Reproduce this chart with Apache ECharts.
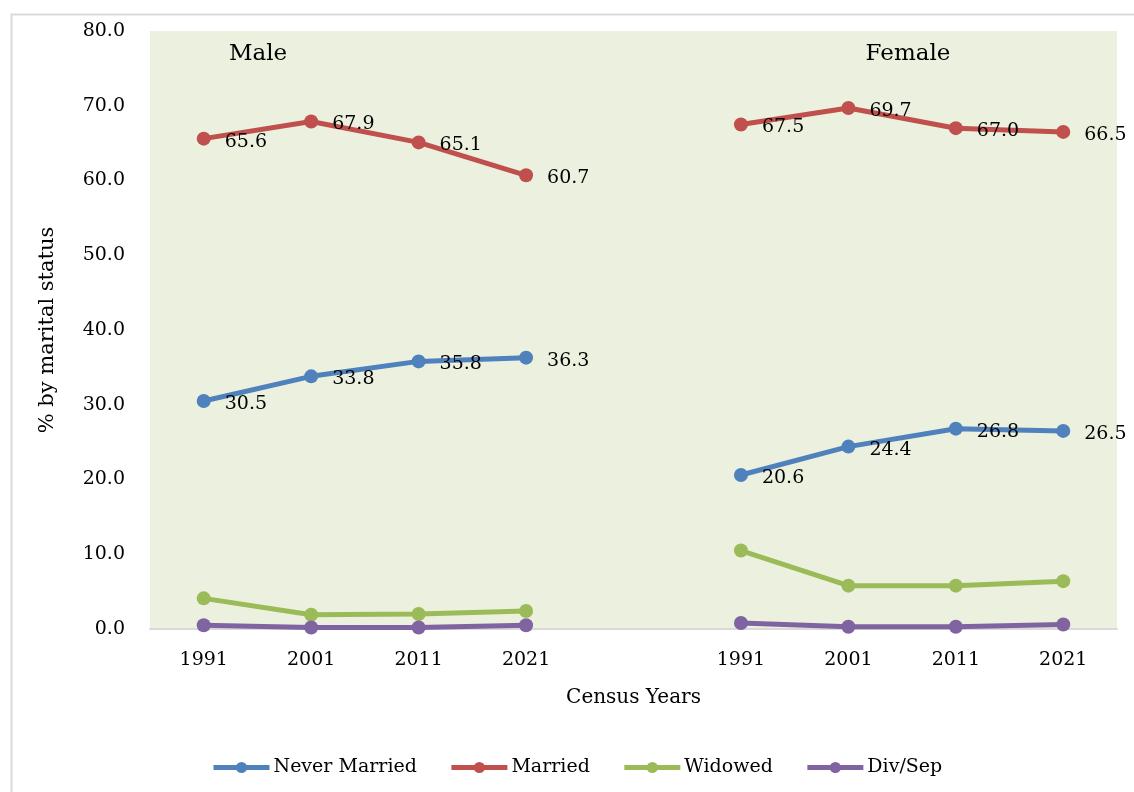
<!DOCTYPE html>
<html>
<head>
<meta charset="utf-8">
<script src="https://cdn.jsdelivr.net/npm/echarts@6/dist/echarts.min.js"></script>
<style>
html,body{margin:0;padding:0;background:#fff;}
#chart{width:1134px;height:792px;}
</style>
</head>
<body>
<div id="chart"></div>
<script>
const categories = ['1991','2001','2011','2021','','1991','2001','2011','2021'];
const neverMarried = [30.5, 33.8, 35.8, 36.3, '-', 20.6, 24.4, 26.8, 26.5];
const married = [65.6, 67.9, 65.1, 60.7, '-', 67.5, 69.7, 67.0, 66.5];
const widowed = [4.1, 1.9, 2.0, 2.4, '-', 10.5, 5.8, 5.8, 6.4];
const divSep = [0.5, 0.2, 0.2, 0.5, '-', 0.8, 0.3, 0.3, 0.6];
const panelLabels = ['Male', 'Female'];

const FONT = 'DejaVu Serif';
const chart = echarts.init(document.getElementById('chart'));

function mkSeries(name, data, color, showLabel) {
  return {
    name: name, type: 'line', data: data, connectNulls: false,
    symbol: 'circle', symbolSize: 14,
    lineStyle: {color: color, width: 5},
    itemStyle: {color: color},
    label: {
      show: showLabel, position: 'right', distance: 14,
      color: '#000', fontFamily: FONT, fontSize: 19,
      offset: [0, 3],
      formatter: p => Number(p.value).toFixed(1)
    },
    emphasis: {disabled: true}
  };
}

chart.setOption({
  animation: false,
  backgroundColor: '#fff',
  graphic: [
    {type: 'rect', left: 9, top: 12, shape: {width: 1140, height: 800}, style: {fill: 'none', stroke: '#d9d9d9', lineWidth: 2}, silent: true},
    {type: 'text', x: 258, y: 54, style: {text: panelLabels[0], font: '23px "' + FONT + '"', fill: '#000', align: 'center', verticalAlign: 'middle'}},
    {type: 'text', x: 908, y: 54, style: {text: panelLabels[1], font: '23px "' + FONT + '"', fill: '#000', align: 'center', verticalAlign: 'middle'}}
  ],
  grid: {left: 150, right: 17, top: 31, bottom: 163, show: true, backgroundColor: '#EBF1DE', borderWidth: 0},
  legend: {
    bottom: 10, left: 206, itemWidth: 56, itemHeight: 14, itemGap: 32,
    lineStyle: {width: 5},
    textStyle: {fontFamily: FONT, fontSize: 19, color: '#000', padding: [0, 0, 0, -1]},
    data: ['Never Married', 'Married', 'Widowed', 'Div/Sep']
  },
  xAxis: {
    type: 'category', data: categories, boundaryGap: true,
    name: 'Census Years', nameLocation: 'middle', nameGap: 59,
    nameTextStyle: {fontFamily: FONT, fontSize: 20, color: '#000'},
    axisLine: {lineStyle: {color: '#d9d9d9', width: 2}},
    axisTick: {show: false},
    axisLabel: {fontFamily: FONT, fontSize: 19, color: '#000', margin: 22, interval: 0},
    splitLine: {show: false}
  },
  yAxis: {
    type: 'value', min: 0, max: 80, interval: 10,
    name: '% by marital status', nameLocation: 'middle', nameGap: 92, nameRotate: 90,
    nameTextStyle: {fontFamily: FONT, fontSize: 21, color: '#000'},
    axisLine: {show: false}, axisTick: {show: false},
    axisLabel: {fontFamily: FONT, fontSize: 19, color: '#000', margin: 25, formatter: v => v.toFixed(1)},
    splitLine: {show: false}
  },
  series: [
    mkSeries('Never Married', neverMarried, '#4F81BD', true),
    mkSeries('Married', married, '#C0504D', true),
    mkSeries('Widowed', widowed, '#9BBB59', false),
    mkSeries('Div/Sep', divSep, '#8064A2', false)
  ]
});
</script>
</body>
</html>
